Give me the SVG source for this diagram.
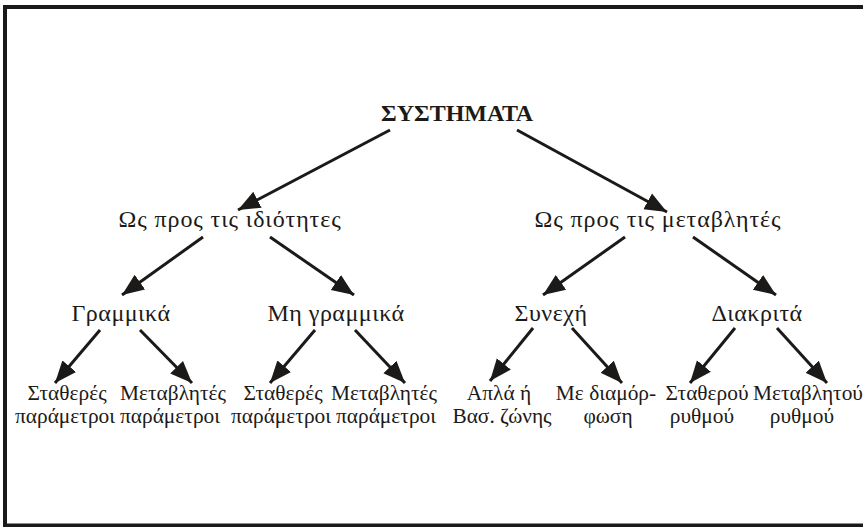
<svg xmlns="http://www.w3.org/2000/svg" width="863" height="527" viewBox="0 0 863 527">
<style>
.t{font-family:"Liberation Serif","Times New Roman",serif;font-size:21.4px;fill:#1c1a18;text-anchor:middle}
.b{font-weight:bold;font-size:24px}
.l1{font-size:24px;letter-spacing:0.9px}
.l2{font-size:24px;letter-spacing:0.5px}
.c{stroke:#1c1a18;stroke-width:3;fill:none;marker-end:url(#ah)}
</style>
<defs>
<marker id="ah" markerUnits="userSpaceOnUse" markerWidth="24" markerHeight="20" viewBox="0 0 24 20" refX="22" refY="10" orient="auto">
<path d="M0,1 L22,10 L0,19 Z" fill="#1c1a18"/>
</marker>
</defs>
<rect x="0" y="0" width="863" height="527" fill="#fff"/>
<rect x="5" y="7" width="880" height="518.5" fill="none" stroke="#1c1a18" stroke-width="4"/>
<g id="connectors">
<line class="c" x1="390" y1="130" x2="238" y2="210"/>
<line class="c" x1="517" y1="130" x2="667" y2="212"/>
<line class="c" x1="203" y1="237" x2="122" y2="295"/>
<line class="c" x1="270" y1="237" x2="354" y2="295"/>
<line class="c" x1="625" y1="237" x2="543" y2="295"/>
<line class="c" x1="693" y1="237" x2="776" y2="295"/>
<line class="c" x1="100" y1="330" x2="55" y2="383"/>
<line class="c" x1="140" y1="330" x2="192" y2="383"/>
<line class="c" x1="315" y1="330" x2="270" y2="383"/>
<line class="c" x1="355" y1="330" x2="405" y2="383"/>
<line class="c" x1="533" y1="328" x2="490" y2="381"/>
<line class="c" x1="572" y1="328" x2="622" y2="383"/>
<line class="c" x1="735" y1="328" x2="690" y2="383"/>
<line class="c" x1="777" y1="328" x2="827" y2="383"/>
</g>
<g id="root"><text class="t b" x="457" y="121">ΣΥΣΤΗΜΑΤΑ</text></g>
<g id="idiotites"><text class="t l1" x="230" y="227">Ως προς τις ιδιότητες</text></g>
<g id="metavlites"><text class="t l1" x="658" y="227">Ως προς τις μεταβλητές</text></g>
<g id="grammika"><text class="t l2" x="121" y="321">Γραμμικά</text></g>
<g id="mi-grammika"><text class="t l2" x="336" y="321">Μη γραμμικά</text></g>
<g id="syneche"><text class="t l2" x="551" y="321">Συνεχή</text></g>
<g id="diakrita"><text class="t l2" x="757" y="321">Διακριτά</text></g>
<g id="g-stath"><text class="t" x="67" y="400">Σταθερές</text><text class="t" x="65" y="423">παράμετροι</text></g>
<g id="g-metav"><text class="t" x="173" y="400">Μεταβλητές</text><text class="t" x="170" y="423">παράμετροι</text></g>
<g id="mg-stath"><text class="t" x="283" y="400">Σταθερές</text><text class="t" x="281" y="423">παράμετροι</text></g>
<g id="mg-metav"><text class="t" x="384" y="400">Μεταβλητές</text><text class="t" x="386" y="423">παράμετροι</text></g>
<g id="apla"><text class="t" x="499" y="400">Απλά ή</text><text class="t" x="502" y="423">Βασ. ζώνης</text></g>
<g id="diamorfosi"><text class="t" x="606" y="400">Με διαμόρ-</text><text class="t" x="608" y="423">φωση</text></g>
<g id="stath-rythm"><text class="t" x="707" y="400">Σταθερού</text><text class="t" x="702" y="423">ρυθμού</text></g>
<g id="metav-rythm"><text class="t" x="808" y="400">Μεταβλητού</text><text class="t" x="802" y="423">ρυθμού</text></g>
</svg>
